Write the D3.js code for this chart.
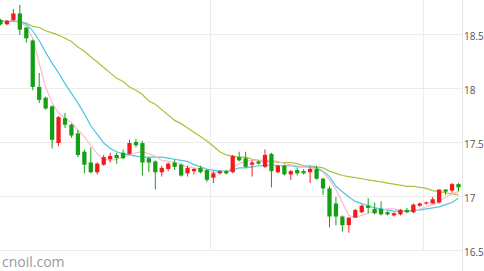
<!DOCTYPE html>
<html>
<head>
<meta charset="utf-8">
<script src="https://cdn.jsdelivr.net/npm/d3@7/dist/d3.min.js"></script>
<style>
  html, body { margin: 0; padding: 0; background: #fff; }
  svg { display: block; }
  .axis text { font-family: "Open Sans", sans-serif; font-size: 10px; fill: #555; }
</style>
</head>
<body>
<div class="vis"></div>
<script>
// daily candles, left to right (red = up, green = down)
const opens = [18.63,18.59,18.63,18.69,18.56,18.44,18.01,17.91,17.83,17.49,
  17.72,17.66,17.58,17.41,17.31,17.22,17.29,17.34,17.38,17.40,
  17.39,17.50,17.49,17.35,17.32,17.22,17.25,17.31,17.29,17.21,
  17.23,17.26,17.24,17.17,17.21,17.23,17.22,17.36,17.35,17.29,
  17.32,17.27,17.39,17.22,17.28,17.20,17.24,17.23,17.22,17.25,
  17.16,17.07,16.93,16.81,16.73,16.80,16.85,16.91,16.88,16.88,
  16.85,16.82,16.83,16.87,16.85,16.91,16.93,16.93,16.94,17.06,
  17.05,17.11];
const highs = [18.64,18.63,18.73,18.77,18.56,18.45,18.14,17.92,17.84,17.74,
  17.77,17.67,17.61,17.43,17.45,17.31,17.38,17.40,17.40,17.43,
  17.52,17.53,17.51,17.36,17.33,17.28,17.31,17.34,17.30,17.28,
  17.26,17.28,17.25,17.23,17.24,17.24,17.38,17.41,17.41,17.33,
  17.33,17.43,17.40,17.29,17.29,17.24,17.26,17.25,17.27,17.28,
  17.17,17.09,16.99,16.82,16.80,16.88,16.92,16.98,16.94,16.95,
  16.86,16.85,16.88,16.89,16.93,16.94,16.95,16.99,17.06,17.06,
  17.12,17.12];
const lows = [18.58,18.58,18.62,18.49,18.42,17.98,17.86,17.80,17.44,17.46,
  17.63,17.54,17.36,17.21,17.21,17.20,17.28,17.31,17.30,17.34,
  17.38,17.45,17.19,17.22,17.06,17.18,17.23,17.24,17.18,17.18,
  17.20,17.21,17.13,17.12,17.20,17.20,17.21,17.32,17.26,17.18,
  17.29,17.26,17.08,17.21,17.19,17.15,17.19,17.20,17.12,17.15,
  17.01,16.71,16.73,16.67,16.66,16.80,16.84,16.84,16.83,16.82,
  16.82,16.81,16.82,16.84,16.84,16.90,16.92,16.93,16.93,17.01,
  17.03,17.04];
const closes = [18.59,18.62,18.69,18.54,18.46,18.01,17.89,17.81,17.52,17.73,
  17.66,17.56,17.38,17.29,17.22,17.30,17.36,17.37,17.35,17.35,
  17.49,17.47,17.31,17.31,17.22,17.26,17.30,17.27,17.19,17.26,
  17.25,17.22,17.15,17.21,17.23,17.21,17.37,17.33,17.27,17.31,
  17.30,17.38,17.23,17.28,17.20,17.23,17.21,17.21,17.25,17.16,
  17.07,16.81,16.81,16.73,16.80,16.87,16.91,16.89,16.84,16.83,
  16.83,16.84,16.87,16.85,16.92,16.93,16.94,16.97,17.06,17.04,
  17.11,17.08];

// moving averages
const maShort = [18.62,18.62,18.63,18.61,18.57,18.46,18.23,18.01,17.86,17.77,
  17.72,17.68,17.61,17.55,17.47,17.39,17.34,17.33,17.34,17.36,
  17.38,17.40,17.41,17.39,17.37,17.33,17.32,17.31,17.29,17.27,
  17.26,17.25,17.23,17.22,17.22,17.23,17.26,17.30,17.32,17.33,
  17.33,17.33,17.33,17.32,17.30,17.29,17.28,17.27,17.26,17.25,
  17.22,17.15,17.06,16.94,16.82,16.80,16.82,16.84,16.86,16.87,
  16.88,16.88,16.87,16.86,16.86,16.88,16.90,16.92,16.95,16.99,
  17.02,17.04];
const maMid = [18.62,18.62,18.62,18.62,18.59,18.53,18.44,18.33,18.23,18.14,
  18.04,17.95,17.86,17.76,17.65,17.57,17.49,17.44,17.41,17.39,
  17.38,17.37,17.36,17.36,17.36,17.36,17.35,17.34,17.33,17.32,
  17.29,17.27,17.25,17.24,17.23,17.23,17.24,17.26,17.26,17.27,
  17.28,17.28,17.29,17.28,17.28,17.28,17.27,17.27,17.27,17.26,
  17.23,17.18,17.09,17.04,16.99,16.95,16.93,16.91,16.89,16.88,
  16.87,16.86,16.86,16.86,16.87,16.87,16.88,16.89,16.90,16.92,
  16.94,16.98];
const maLong = [18.62,18.62,18.62,18.61,18.60,18.57,18.56,18.53,18.51,18.49,
  18.46,18.43,18.38,18.34,18.29,18.24,18.19,18.14,18.09,18.06,
  18.01,17.98,17.94,17.88,17.85,17.80,17.75,17.70,17.67,17.63,
  17.59,17.55,17.51,17.46,17.41,17.38,17.37,17.36,17.36,17.34,
  17.33,17.32,17.32,17.31,17.31,17.31,17.30,17.28,17.28,17.27,
  17.26,17.23,17.21,17.19,17.18,17.17,17.16,17.15,17.14,17.13,
  17.12,17.11,17.10,17.09,17.09,17.08,17.07,17.05,17.04,17.03,
  17.02,17.01];

const yTicks = [16.5, 17, 17.5, 18, 18.5];
const yTickLabels = ["16.5", "17", "17.5", "18", "18.5"];
// month boundaries fall between these candles
const monthBreaks = [32.5, 65.5];

const W = 484, H = 271, plotW = 462, plotH = 250;

const svg = d3.select(".vis").append("svg")
    .attr("width", W)
    .attr("height", H);

const x = d3.scaleLinear().domain([0, closes.length - 1]).range([0.5, 458.5]);
const y = d3.scaleLinear().domain([16.5, 18.5]).range([250, 34]);

svg.append("defs").append("clipPath").attr("id", "plot")
    .append("rect").attr("x", 0).attr("y", 0).attr("width", plotW).attr("height", plotH);

// grid
const grid = svg.append("g").attr("class", "grid");
grid.selectAll("line.h")
    .data(yTicks)
    .join("line")
    .attr("class", "h")
    .attr("x1", 0).attr("x2", plotW)
    .attr("y1", d => Math.round(y(d)) + 0.5).attr("y2", d => Math.round(y(d)) + 0.5)
    .attr("stroke", "#ececec");
grid.selectAll("line.v")
    .data(monthBreaks)
    .join("line")
    .attr("class", "v")
    .attr("x1", d => Math.round(x(d)) + 0.5).attr("x2", d => Math.round(x(d)) + 0.5)
    .attr("y1", 0).attr("y2", plotH)
    .attr("stroke", "#ececec");

// y axis on the right
const yAxis = svg.append("g")
    .attr("class", "axis")
    .attr("transform", `translate(${plotW}, 0)`)
    .call(d3.axisRight(y).tickValues(yTicks).tickFormat((d, i) => yTickLabels[i]).tickSize(0).tickPadding(2));
yAxis.select(".domain").attr("stroke", "#e6e6e6").attr("d", `M0.5,0V${H}`);
yAxis.selectAll("text").attr("y", 2).attr("fill", "#555");

const plot = svg.append("g").attr("clip-path", "url(#plot)");

// moving average lines
const line = d3.line().x((d, i) => x(i)).y(d => y(d));
[[maLong, "#a6c43c"], [maMid, "#4fc6e1"], [maShort, "#ffb9cb"]].forEach(([vals, col]) => {
    plot.append("path")
        .datum(vals)
        .attr("fill", "none")
        .attr("stroke", col)
        .attr("stroke-width", 1.2)
        .attr("d", line);
});

// candles
const step = x(1) - x(0);
const bodyW = step * 0.66;
const idx = d3.range(closes.length);
const color = i => closes[i] > opens[i] ? "#f21b1b" : "#14a014";

const candles = plot.selectAll("g.candle")
    .data(idx)
    .join("g")
    .attr("class", "candle");

candles.append("line")
    .attr("x1", i => x(i)).attr("x2", i => x(i))
    .attr("y1", i => y(highs[i])).attr("y2", i => y(lows[i]))
    .attr("stroke", color)
    .attr("stroke-width", 1);

candles.append("rect")
    .attr("x", i => x(i) - bodyW / 2)
    .attr("width", bodyW)
    .attr("y", i => y(Math.max(opens[i], closes[i])))
    .attr("height", i => Math.max(1, Math.abs(y(opens[i]) - y(closes[i]))))
    .attr("fill", color);

// watermark
svg.append("text")
    .attr("x", 2)
    .attr("y", 267)
    .attr("font-family", "'Open Sans', sans-serif")
    .attr("font-size", 14)
    .attr("fill", "#999")
    .text("cnoil.com");
</script>
</body>
</html>
